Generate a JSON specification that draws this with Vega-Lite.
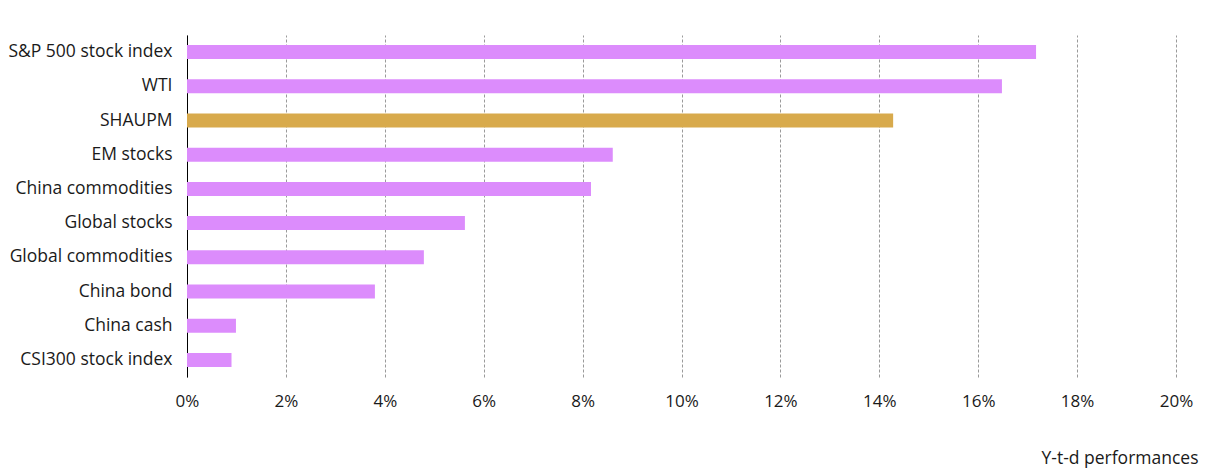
{
  "$schema": "https://vega.github.io/schema/vega-lite/v6.json",
  "width": 989,
  "height": 342,
  "autosize": {"type": "none"},
  "padding": {"left": 187, "top": 35, "right": 45, "bottom": 97},
  "background": "white",
  "config": {
    "view": {"stroke": null},
    "font": "Open Sans",
    "axis": {"labelFont": "Open Sans", "titleFont": "Open Sans"}
  },
  "data": {
    "values": [
      {"asset": "S&P 500 stock index", "ytd": 0.1717, "group": "other"},
      {"asset": "WTI", "ytd": 0.1648, "group": "other"},
      {"asset": "SHAUPM", "ytd": 0.1428, "group": "shaupm"},
      {"asset": "EM stocks", "ytd": 0.0861, "group": "other"},
      {"asset": "China commodities", "ytd": 0.0817, "group": "other"},
      {"asset": "Global stocks", "ytd": 0.0562, "group": "other"},
      {"asset": "Global commodities", "ytd": 0.0479, "group": "other"},
      {"asset": "China bond", "ytd": 0.038, "group": "other"},
      {"asset": "China cash", "ytd": 0.0099, "group": "other"},
      {"asset": "CSI300 stock index", "ytd": 0.009, "group": "other"}
    ]
  },
  "mark": {"type": "bar"},
  "encoding": {
    "y": {
      "field": "asset",
      "type": "nominal",
      "sort": null,
      "scale": {"paddingInner": 0.59, "paddingOuter": 0.295},
      "axis": {
        "title": null,
        "ticks": false,
        "domain": true,
        "domainColor": "#000000",
        "domainWidth": 1,
        "labelFontSize": 17.5,
        "labelColor": "#1a1a1a",
        "labelPadding": 15,
        "labelLimit": 300,
        "grid": false
      }
    },
    "x": {
      "field": "ytd",
      "type": "quantitative",
      "scale": {"domain": [0, 0.2], "nice": false, "zero": true},
      "axis": {
        "format": ".0%",
        "values": [0, 0.02, 0.04, 0.06, 0.08, 0.1, 0.12, 0.14, 0.16, 0.18, 0.2],
        "domain": false,
        "ticks": false,
        "grid": true,
        "gridColor": "#9a9a9a",
        "gridDash": [3, 2],
        "gridWidth": 1,
        "labelFontSize": 17,
        "labelColor": "#1a1a1a",
        "labelPadding": 16,
        "labelFlush": false,
        "labelOverlap": false,
        "title": "Y-t-d performances",
        "titleFontSize": 17.5,
        "titleFontWeight": "normal",
        "titleColor": "#1a1a1a",
        "titleAnchor": "end",
        "titleAlign": "right",
        "titleX": 1011,
        "titleY": 86,
        "titleBaseline": "alphabetic"
      }
    },
    "color": {
      "field": "group",
      "type": "nominal",
      "scale": {"domain": ["other", "shaupm"], "range": ["#dc8cfc", "#d8aa4c"]},
      "legend": null
    }
  }
}
